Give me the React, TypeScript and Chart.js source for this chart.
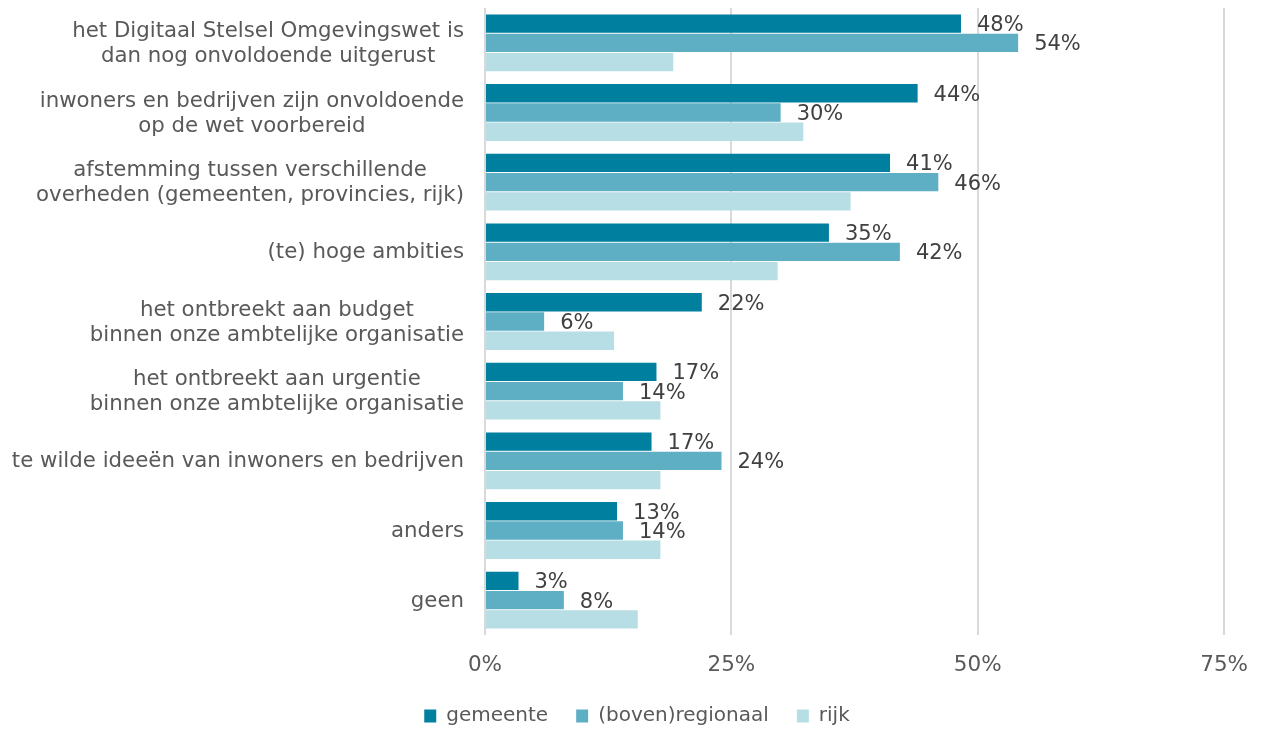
import React, { useEffect, useRef } from "react";
import { Chart, registerables } from "chart.js";

Chart.register(...registerables);

const categories: string[][] = [
  ["het Digitaal Stelsel Omgevingswet is", "dan nog onvoldoende uitgerust"],
  ["inwoners en bedrijven zijn onvoldoende", "op de wet voorbereid"],
  ["afstemming tussen verschillende", "overheden (gemeenten, provincies, rijk)"],
  ["(te) hoge ambities"],
  ["het ontbreekt aan budget", "binnen onze ambtelijke organisatie"],
  ["het ontbreekt aan urgentie", "binnen onze ambtelijke organisatie"],
  ["te wilde ideeën van inwoners en bedrijven"],
  ["anders"],
  ["geen"],
];

const seriesNames = ["gemeente", "(boven)regionaal", "rijk"];
const gemeente = [48.3, 43.9, 41.1, 34.9, 22.0, 17.4, 16.9, 13.4, 3.4];
const regionaal = [54.1, 30.0, 46.0, 42.1, 6.0, 14.0, 24.0, 14.0, 8.0];
const rijk = [19.1, 32.3, 37.1, 29.7, 13.1, 17.8, 17.8, 17.8, 15.5];
const gemeenteLabels = ["48%", "44%", "41%", "35%", "22%", "17%", "17%", "13%", "3%"];
const regionaalLabels = ["54%", "30%", "46%", "42%", "6%", "14%", "24%", "14%", "8%"];
const xTicks = [0, 25, 50, 75];

const colors = ["#007f9f", "#5eafc4", "#b7dde5"];
const FONT = "'DejaVu Sans', Verdana, sans-serif";

const labelPlugin = {
  id: "customLabels",
  afterDatasetsDraw(chart: any) {
    const ctx = chart.ctx;
    ctx.save();
    const labelSets = [gemeenteLabels, regionaalLabels];
    labelSets.forEach((labels, di) => {
      const meta = chart.getDatasetMeta(di);
      meta.data.forEach((bar: any, i: number) => {
        ctx.font = `21px ${FONT}`;
        ctx.fillStyle = "#404040";
        ctx.textAlign = "left";
        ctx.textBaseline = "middle";
        ctx.fillText(labels[i], bar.x + 16, bar.y + 2);
      });
    });
    const yScale = chart.scales.y;
    const rightX = chart.chartArea.left - 21;
    ctx.font = `21.3px ${FONT}`;
    ctx.fillStyle = "#595959";
    ctx.textAlign = "center";
    ctx.textBaseline = "middle";
    const lh = 25;
    categories.forEach((lines, i) => {
      const cy = yScale.getPixelForValue(i) + 1;
      const maxW = Math.max(...lines.map((l) => ctx.measureText(l).width));
      const cx = rightX - maxW / 2;
      const startY = cy - ((lines.length - 1) * lh) / 2;
      lines.forEach((l, k) => ctx.fillText(l, cx, startY + k * lh));
    });
    ctx.restore();
  },
};

export default function App() {
  const ref = useRef<HTMLCanvasElement | null>(null);
  useEffect(() => {
    if (!ref.current) return;
    const chart = new Chart(ref.current, {
      type: "bar",
      data: {
        labels: categories.map((c) => c.join(" ")),
        datasets: [
          { label: seriesNames[0], data: gemeente, backgroundColor: colors[0], borderWidth: 0 },
          { label: seriesNames[1], data: regionaal, backgroundColor: colors[1], borderWidth: 0 },
          { label: seriesNames[2], data: rijk, backgroundColor: colors[2], borderWidth: 0 },
        ],
      },
      options: {
        indexAxis: "y",
        animation: false,
        responsive: true,
        maintainAspectRatio: false,
        layout: { padding: { top: 0, right: 0, bottom: -7, left: 0 } },
        datasets: {
          bar: { categoryPercentage: 0.83, barPercentage: 0.95 },
        },
        scales: {
          x: {
            min: 0,
            max: 75,
            afterBuildTicks: (scale: any) => {
              scale.ticks = xTicks.map((v) => ({ value: v }));
            },
            afterFit: (scale: any) => {
              scale.height = 43;
            },
            ticks: {
              callback: (v: any) => v + "%",
              font: { family: FONT, size: 21.5 },
              color: "#595959",
              padding: 18,
            },
            grid: { color: "#d9d9d9", lineWidth: 2, drawTicks: false },
            border: { display: false },
          },
          y: {
            ticks: { display: false },
            grid: { display: false },
            border: { display: false },
            afterFit: (scale: any) => {
              scale.width = 477;
            },
          },
        },
        plugins: {
          legend: {
            position: "bottom",
            labels: {
              boxWidth: 12,
              boxHeight: 13,
              font: { family: FONT, size: 20 },
              color: "#595959",
              padding: 28,
            },
          },
          tooltip: { enabled: false },
        },
      },
      plugins: [labelPlugin],
    } as any);
    return () => chart.destroy();
  }, []);
  return (
    <div style={{ position: "fixed", left: 8, top: 8, width: 1258, height: 721 }}>
      <canvas ref={ref} />
    </div>
  );
}
